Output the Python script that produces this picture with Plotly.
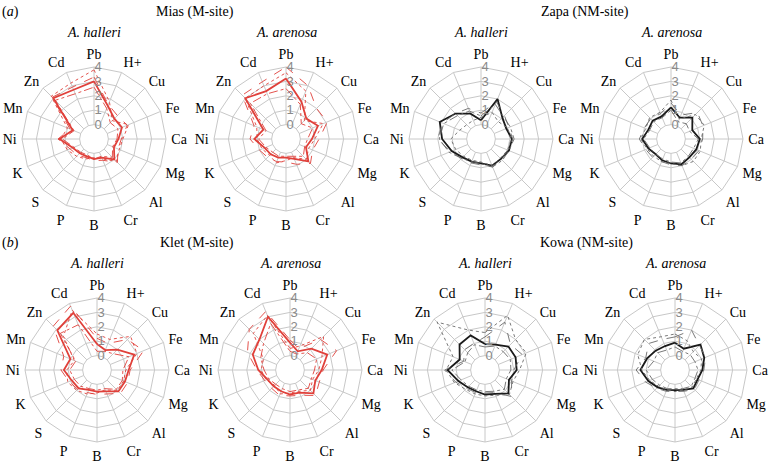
import plotly.graph_objects as go

categories = ["Pb", "H+", "Cu", "Fe", "Ca", "Mg", "Al", "Cr", "B", "P", "S", "K", "Ni", "Mn", "Zn", "Cd"]
radial_ticks = [0, 1, 2, 3, 4]

# Mias (M-site), A. halleri
mias_halleri_solid = [3.0, 1.5, 1.0, 1.1, 0.7, 0.5, 1.0, 0.4, 0.4, 0.3, 0.4, 0.6, 1.4, 0.6, 3.0, 2.7]
mias_halleri_dash = [3.3, 1.6, 1.3, 1.5, 0.9, 0.8, 1.3, 0.6, 0.5, 0.4, 0.6, 0.8, 1.5, 0.8, 3.1, 2.9]
mias_halleri_dot = [3.8, 1.8, 0.8, 1.6, 1.0, 0.9, 1.2, 0.5, 0.3, 0.5, 0.7, 1.0, 1.3, 1.0, 3.2, 3.2]
mias_halleri_dashdot = [2.6, 1.3, 0.6, 0.8, 0.6, 0.4, 0.8, 0.3, 0.4, 0.2, 0.3, 0.5, 1.2, 0.5, 2.8, 2.4]
# Mias (M-site), A. arenosa
mias_arenosa_solid = [3.2, 1.8, 1.0, 1.4, 0.8, 0.5, 1.2, 0.5, 0.3, 0.4, 0.5, 0.6, 1.2, 0.7, 3.0, 2.6]
mias_arenosa_dash = [4.0, 3.0, 2.0, 2.1, 1.3, 1.0, 1.4, 0.9, 0.6, 0.7, 0.8, 1.0, 1.5, 1.4, 3.3, 3.3]
mias_arenosa_dot = [3.6, 2.6, 0.8, 1.8, 1.0, 0.7, 1.0, 0.4, 0.5, 0.8, 0.6, 0.8, 1.0, 1.2, 3.0, 3.0]
mias_arenosa_dashdot = [2.5, 1.6, 0.5, 1.0, 0.5, 0.4, 0.7, 0.3, 0.2, 0.3, 0.3, 0.5, 0.9, 0.5, 2.5, 2.4]
# Zapa (NM-site), A. halleri
zapa_halleri_solid = [0.3, 2.0, 1.1, 0.9, 1.15, 1.1, 0.95, 1.0, 0.7, 0.7, 0.8, 1.2, 1.7, 2.1, 1.5, 0.9]
zapa_halleri_dash = [0.8, 1.8, 1.3, 1.1, 1.2, 1.0, 1.0, 1.1, 0.8, 0.8, 0.9, 1.3, 2.0, 1.9, 1.5, 1.3]
zapa_halleri_dot = [0.5, 1.0, 0.7, 1.0, 1.1, 1.0, 0.9, 1.0, 0.6, 0.6, 0.7, 0.9, 1.1, 0.6, 0.4, 0.4]
zapa_halleri_dashdot = [0.6, 1.6, 1.2, 1.2, 1.3, 1.1, 1.1, 1.1, 0.7, 0.7, 0.9, 1.4, 1.9, 1.8, 1.3, 1.1]
# Zapa (NM-site), A. arenosa
zapa_arenosa_solid = [1.2, 0.6, 1.1, 0.6, 1.0, 0.9, 0.8, 0.9, 0.7, 0.6, 0.5, 0.7, 1.0, 0.7, 0.8, 0.7]
zapa_arenosa_dash = [1.5, 0.8, 1.6, 1.4, 1.2, 1.1, 1.0, 1.0, 0.8, 0.7, 0.8, 0.9, 1.2, 1.0, 1.0, 0.9]
zapa_arenosa_dot = [1.7, 0.5, 1.4, 1.5, 1.1, 1.2, 1.2, 1.0, 0.7, 0.7, 0.7, 0.8, 1.1, 0.9, 1.1, 1.0]
zapa_arenosa_dashdot = [1.0, 0.3, 0.5, 0.4, 0.9, 0.7, 0.7, 0.8, 0.6, 0.5, 0.5, 0.6, 0.9, 0.6, 0.7, 0.6]
# Klet (M-site), A. halleri
klet_halleri_solid = [0.8, 0.5, 1.0, 1.8, 1.2, 1.1, 1.1, 0.6, 0.5, 0.5, 0.8, 0.9, 1.3, 1.0, 2.9, 3.3]
klet_halleri_dash = [1.2, 1.0, 2.0, 2.5, 1.3, 1.3, 1.3, 0.8, 0.7, 0.7, 0.9, 1.1, 1.5, 1.5, 3.3, 3.8]
klet_halleri_dot = [1.5, 1.3, 2.3, 2.0, 1.0, 1.0, 1.0, 0.5, 0.6, 0.8, 1.0, 1.2, 1.1, 0.7, 2.3, 3.5]
klet_halleri_dashdot = [0.3, 0.4, 0.6, 1.4, 0.8, 0.9, 0.9, 0.4, 0.4, 0.4, 0.6, 0.7, 0.9, 0.6, 2.6, 2.4]
# Klet (M-site), A. arenosa
klet_arenosa_solid = [0.9, 0.4, 1.1, 1.8, 1.2, 0.9, 1.3, 0.7, 0.7, 0.6, 0.6, 0.7, 1.2, 1.8, 2.0, 3.0]
klet_arenosa_dash = [1.1, 0.6, 2.0, 2.5, 1.3, 1.2, 1.5, 0.9, 0.8, 0.9, 0.8, 0.9, 1.3, 2.2, 3.0, 3.4]
klet_arenosa_dot = [0.5, 0.8, 2.3, 1.4, 1.0, 0.7, 1.0, 0.6, 0.6, 0.8, 0.5, 0.8, 1.0, 1.0, 2.6, 3.1]
klet_arenosa_dashdot = [0.3, 0.2, 0.7, 1.0, 0.7, 0.6, 0.8, 0.5, 0.5, 0.4, 0.4, 0.6, 0.8, 1.2, 1.6, 2.5]
# Kowa (NM-site), A. halleri
kowa_halleri_solid = [0.8, 0.9, 1.3, 1.3, 1.2, 0.8, 1.3, 0.8, 0.7, 0.6, 0.7, 1.0, 1.6, 0.9, 1.5, 1.6]
kowa_halleri_dash = [1.3, 2.6, 1.5, 1.8, 1.0, 1.0, 1.6, 0.7, 0.6, 0.7, 0.8, 1.2, 1.8, 0.6, 1.0, 1.0]
kowa_halleri_dot = [1.6, 3.1, 2.0, 2.1, 1.4, 1.1, 1.4, 0.9, 0.8, 0.8, 0.9, 1.3, 1.7, 1.4, 3.7, 2.0]
kowa_halleri_dashdot = [0.6, 0.8, 0.8, 0.9, 0.8, 0.6, 0.9, 0.6, 0.5, 0.5, 0.6, 0.8, 1.3, 0.5, 0.7, 0.9]
# Kowa (NM-site), A. arenosa
kowa_arenosa_solid = [0.9, 0.6, 1.5, 1.2, 0.9, 0.7, 0.8, 0.5, 0.4, 0.5, 0.7, 1.0, 1.4, 1.1, 0.9, 0.8]
kowa_arenosa_dash = [1.3, 2.0, 1.4, 1.3, 1.0, 0.8, 0.9, 0.6, 0.5, 0.6, 0.8, 1.2, 1.7, 1.2, 1.6, 1.3]
kowa_arenosa_dot = [1.5, 1.2, 0.8, 1.0, 0.8, 0.6, 0.7, 0.5, 0.5, 0.5, 0.6, 0.9, 1.3, 1.8, 2.0, 1.5]
kowa_arenosa_dashdot = [0.6, 0.4, 0.5, 0.5, 0.6, 0.5, 0.6, 0.4, 0.3, 0.4, 0.5, 0.7, 1.0, 0.6, 0.7, 0.5]

W, H = 770, 465
R = 72
SERIF = "Liberation Serif"
RED = "#e0403a"
BLACK = "#1a1a1a"
GRAY = "#6a6a6a"
GRID = "#c8c8c8"

panels = [
    ((mias_halleri_solid, mias_halleri_dash, mias_halleri_dot, mias_halleri_dashdot), 94, 139, "red"),
    ((mias_arenosa_solid, mias_arenosa_dash, mias_arenosa_dot, mias_arenosa_dashdot), 286, 139, "red"),
    ((zapa_halleri_solid, zapa_halleri_dash, zapa_halleri_dot, zapa_halleri_dashdot), 481, 139, "black"),
    ((zapa_arenosa_solid, zapa_arenosa_dash, zapa_arenosa_dot, zapa_arenosa_dashdot), 671, 139, "black"),
    ((klet_halleri_solid, klet_halleri_dash, klet_halleri_dot, klet_halleri_dashdot), 97, 370, "red"),
    ((klet_arenosa_solid, klet_arenosa_dash, klet_arenosa_dot, klet_arenosa_dashdot), 290, 370, "red"),
    ((kowa_halleri_solid, kowa_halleri_dash, kowa_halleri_dot, kowa_halleri_dashdot), 485, 370, "black"),
    ((kowa_arenosa_solid, kowa_arenosa_dash, kowa_arenosa_dot, kowa_arenosa_dashdot), 675, 370, "black"),
]
species = ["A. halleri", "A. arenosa"] * 4

fig = go.Figure()
layout = {}
annotations = []
theta = categories + [categories[0]]
for i, (series, cx, cy, pal) in enumerate(panels):
    key = "polar" if i == 0 else f"polar{i+1}"
    dashes = ["solid", "dash", "dot", "dashdot"]
    for j, vals in enumerate(series):
        if pal == "red":
            col = RED
        else:
            col = BLACK if j == 0 else GRAY
        fig.add_trace(go.Scatterpolar(
            r=list(vals) + [vals[0]], theta=theta, mode="lines", subplot=key,
            line=dict(color=col, width=1.8 if j == 0 else 0.9, dash=dashes[j]),
            showlegend=False, hoverinfo="skip"))
    layout[key] = dict(
        domain=dict(x=[(cx - R) / W, (cx + R) / W], y=[(H - cy - R) / H, (H - cy + R) / H]),
        hole=0.2, bgcolor="white", gridshape="linear",
        angularaxis=dict(direction="clockwise", rotation=90, type="category",
                         categoryarray=categories, gridcolor=GRID, linecolor=GRID,
                         showline=True, ticks="outside", ticklen=2, tickcolor="rgba(0,0,0,0)",
                         tickfont=dict(family=SERIF, size=14, color="black")),
        radialaxis=dict(range=[0, 4], tickvals=radial_ticks, angle=90, tickangle=90,
                        showline=False, gridcolor=GRID, ticks="",
                        tickfont=dict(family="Liberation Sans", size=13, color="#8a8a8a")),
    )
    annotations.append(dict(text=f"<i>{species[i]}</i>", x=cx / W, y=(H - (32 if cy < 200 else 263)) / H,
                            xref="paper", yref="paper", showarrow=False,
                            font=dict(family=SERIF, size=14, color="black"),
                            xanchor="center", yanchor="middle"))

for txt, x, y in [("(<i>a</i>)", 10, 12), ("Mias (M-site)", 195, 12), ("Zapa (NM-site)", 585, 12),
                  ("(<i>b</i>)", 10, 243), ("Klet (M-site)", 197, 243), ("Kowa (NM-site)", 586, 243)]:
    annotations.append(dict(text=txt, x=x / W, y=(H - y) / H, xref="paper", yref="paper",
                            showarrow=False, font=dict(family=SERIF, size=14, color="black"),
                            xanchor="center", yanchor="middle"))

fig.update_layout(width=W, height=H, margin=dict(l=0, r=0, t=0, b=0),
                  paper_bgcolor="white", plot_bgcolor="white",
                  annotations=annotations, **layout)
fig.write_html("out.html", config={"displayModeBar": False},
               post_script="document.body.style.margin='0';")
